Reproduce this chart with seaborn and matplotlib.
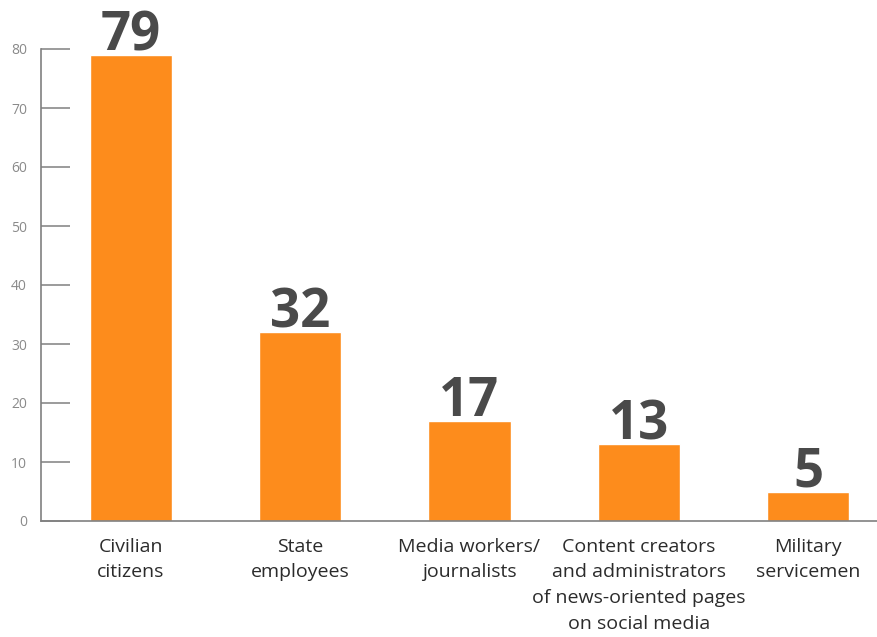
import matplotlib
matplotlib.use("Agg")
import matplotlib.pyplot as plt
import seaborn as sns
import pandas as pd

categories = [
    "Civilian\ncitizens",
    "State\nemployees",
    "Media workers/\njournalists",
    "Content creators\nand administrators\nof news-oriented pages\non social media",
    "Military\nservicemen",
]
counts = [79, 32, 17, 13, 5]
y_ticks = [0, 10, 20, 30, 40, 50, 60, 70, 80]

sns.set_theme(style="white")
plt.rcParams["font.family"] = ["Open Sans", "DejaVu Sans"]

df = pd.DataFrame({"category": categories, "count": counts})

fig = plt.figure(figsize=(8.77, 6.37), dpi=100)
ax = fig.add_axes([41 / 877, (637 - 521) / 637, 1 - 41 / 877, (521 - 49) / 637])

sns.barplot(data=df, x="category", y="count", color="#fd8c1c", saturation=1,
            width=0.485, ax=ax)

ax.set_xlim(-0.532, 4.408)
ax.set_ylim(0, 80)
ax.set_yticks(y_ticks)
ax.set_xlabel("")
ax.set_ylabel("")

for side in ("top", "right"):
    ax.spines[side].set_visible(False)
for side in ("left", "bottom"):
    ax.spines[side].set_color("#808080")
    ax.spines[side].set_linewidth(1.2)

ax.tick_params(axis="y", direction="in", length=21, width=1.1, color="#808080",
               labelsize=10, labelcolor="#8a8a8a", pad=10, left=True)
ax.tick_params(axis="x", length=0, labelsize=14, labelcolor="#2b2b2b", pad=12)
for lbl in ax.get_yticklabels():
    lbl.set_horizontalalignment("right")
for lbl in ax.get_xticklabels():
    lbl.set_linespacing(1.55)

for i, v in enumerate(counts):
    ax.annotate(str(v), (i, v), xytext=(0, 3.5), textcoords="offset points",
                ha="center", va="baseline", fontsize=38, fontweight="bold",
                color="#4a4a4a", clip_on=False)

fig.savefig("out.png", dpi=100)
